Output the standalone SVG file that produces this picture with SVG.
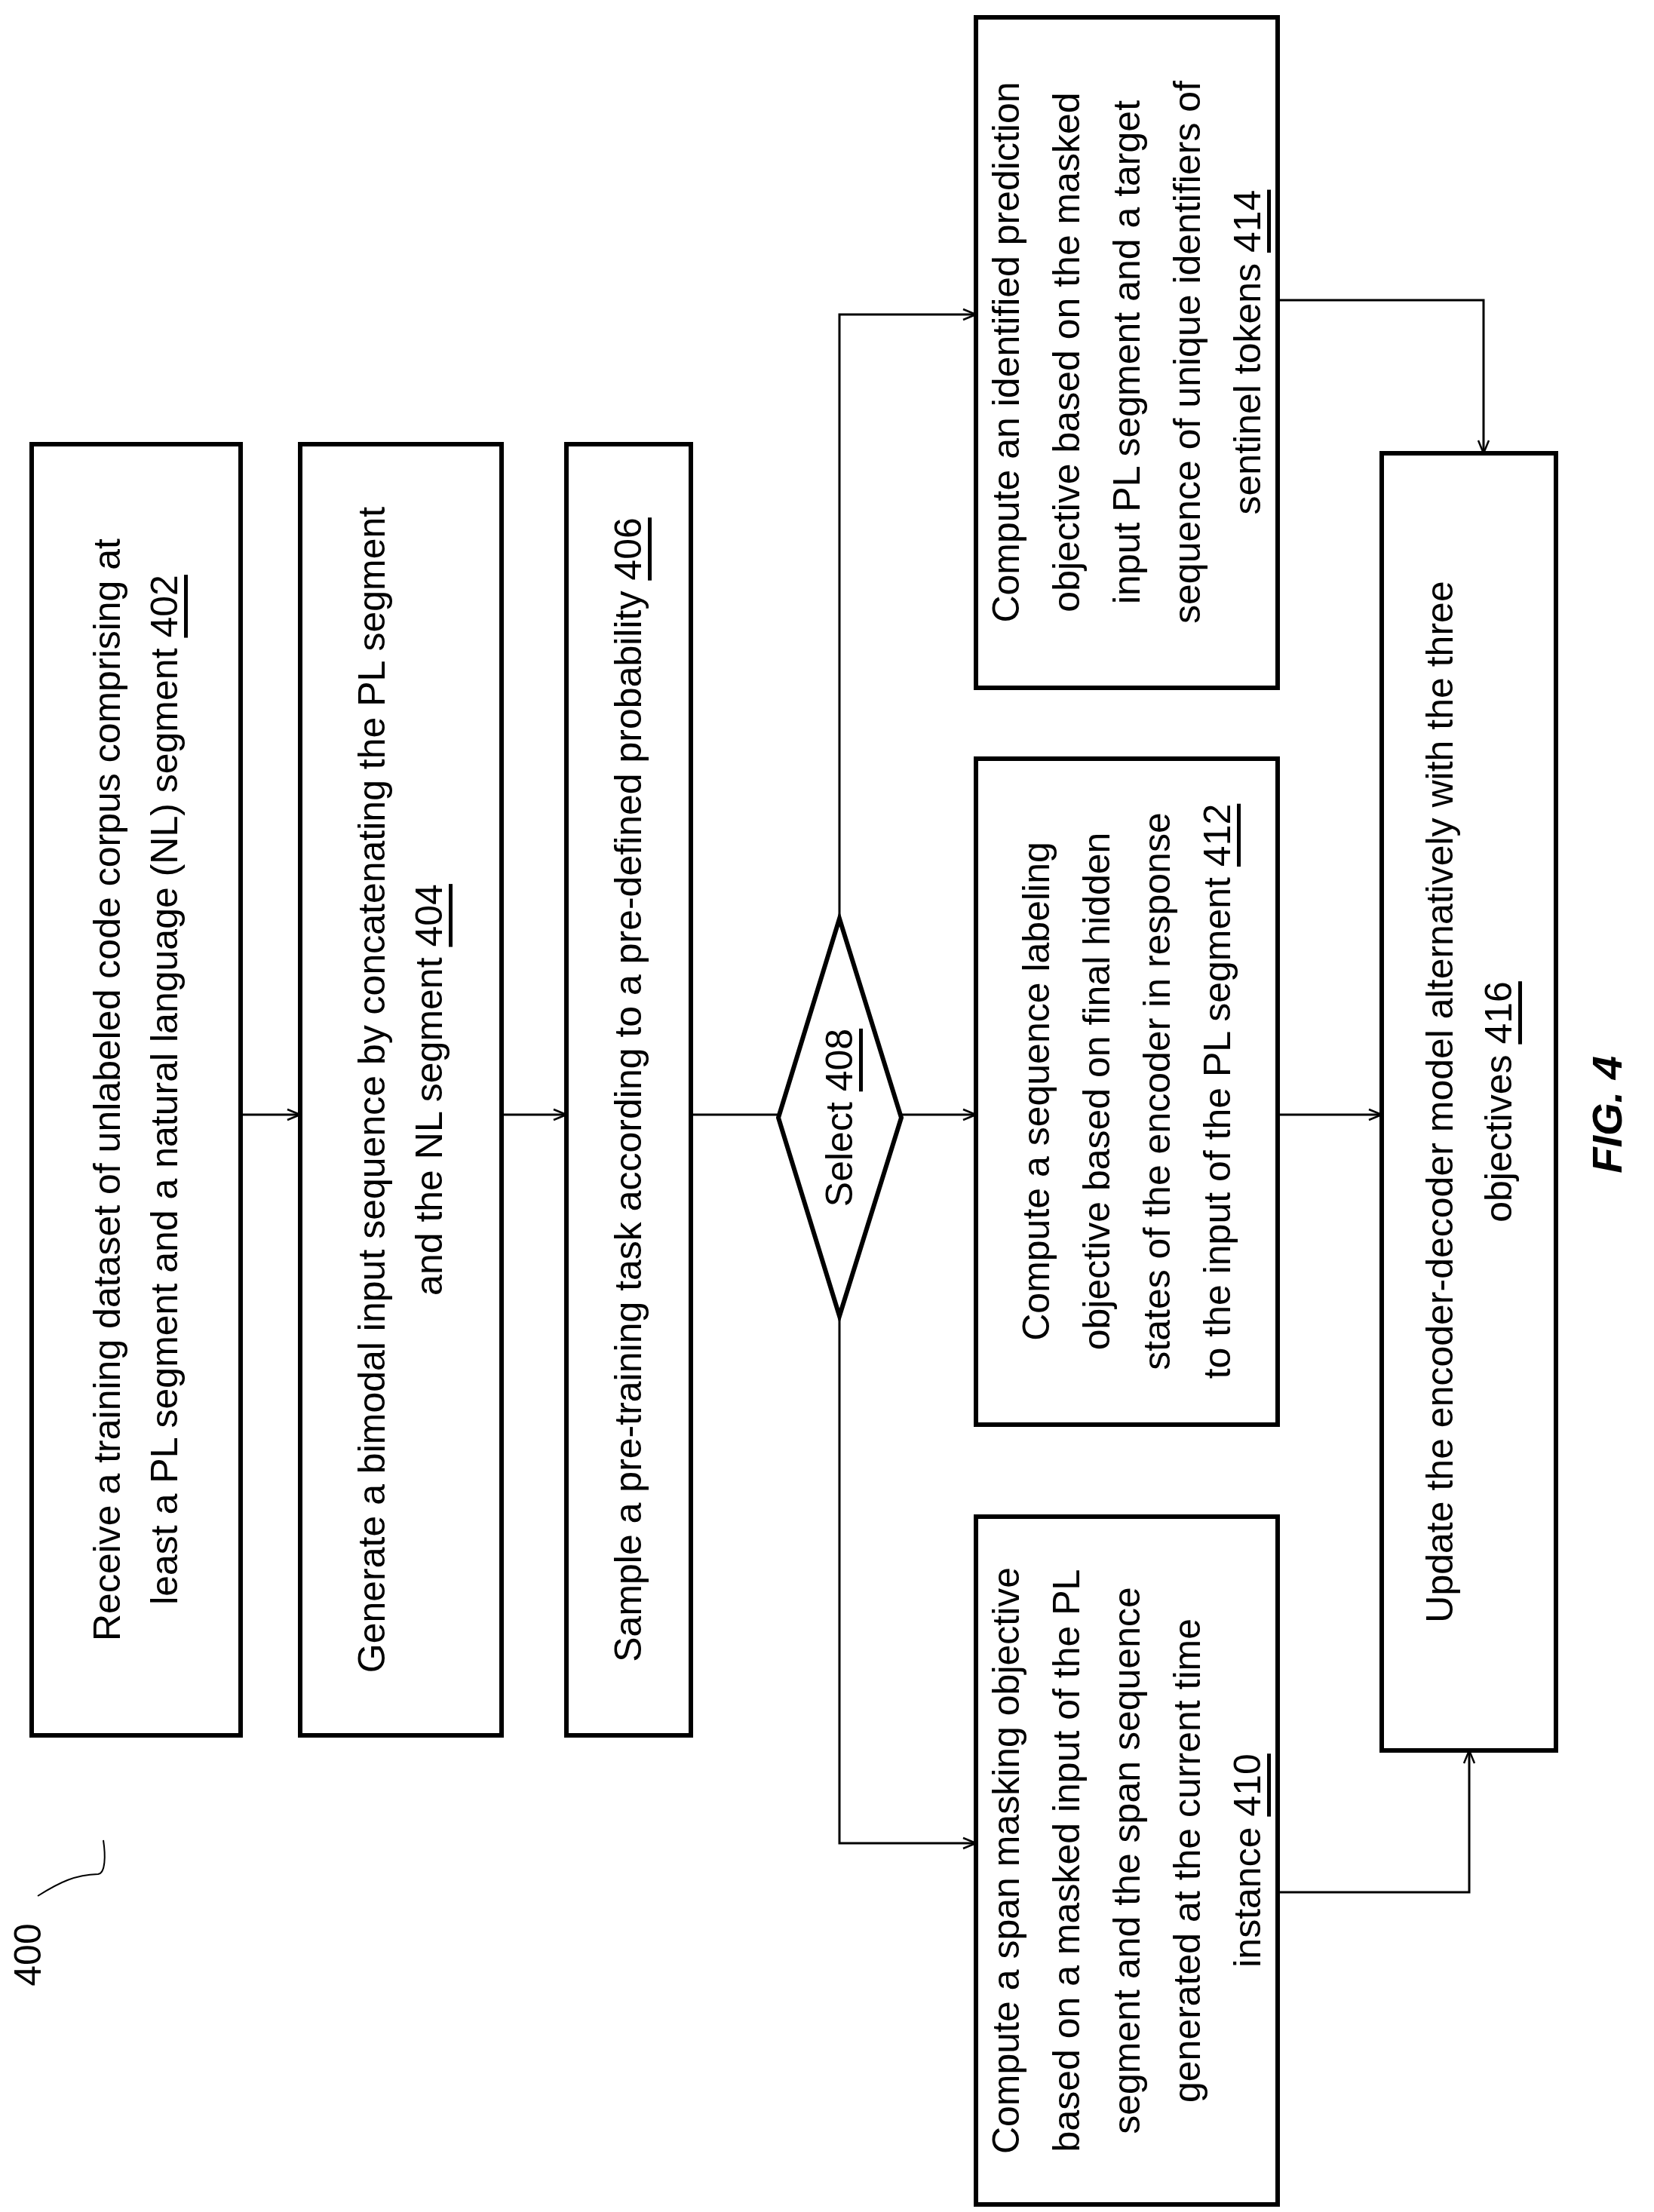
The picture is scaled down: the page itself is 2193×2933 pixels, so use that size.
<svg xmlns="http://www.w3.org/2000/svg" width="2193" height="2933" viewBox="0 0 2193 2933">
<style>
.b{fill:#fff;stroke:#000;stroke-width:6}
.t{font-family:"Liberation Sans",Arial,sans-serif;font-size:50px;text-anchor:middle;dominant-baseline:central;fill:#000}
.u{text-decoration:underline}
.c{fill:none;stroke:#000;stroke-width:3}
</style>
<defs><marker id="a" viewBox="0 0 20 20" refX="19" refY="10" markerWidth="20" markerHeight="20" markerUnits="userSpaceOnUse" orient="auto"><path d="M2,3 L19,10 L2,17" fill="none" stroke="#000" stroke-width="2.5"/></marker></defs>
<g id="connectors">
<path class="c" d="M319,1478 H398" marker-end="url(#a)"/>
<path class="c" d="M665,1478 H751" marker-end="url(#a)"/>
<path class="c" d="M916,1478 H1032"/>
<path class="c" d="M1195,1478 H1294" marker-end="url(#a)"/>
<path class="c" d="M1113,1218 V417 H1294" marker-end="url(#a)"/>
<path class="c" d="M1113,1745 V2444 H1294" marker-end="url(#a)"/>
<path class="c" d="M1694,1478 H1832" marker-end="url(#a)"/>
<path class="c" d="M1694,398 H1967 V601" marker-end="url(#a)"/>
<path class="c" d="M1694,2509 H1948 V2321" marker-end="url(#a)"/>
</g>
<g id="n402"><rect class="b" x="42" y="589" width="277" height="1712"/>
<text class="t" transform="translate(180,1445) rotate(-90)"><tspan x="0" y="-38">Receive a training dataset of unlabeled code corpus comprising at</tspan><tspan x="0" y="38">least a PL segment and a natural language (NL) segment <tspan class="u">402</tspan></tspan></text></g>
<g id="n404"><rect class="b" x="398" y="589" width="267" height="1712"/>
<text class="t" transform="translate(531,1445) rotate(-90)"><tspan x="0" y="-38">Generate a bimodal input sequence by concatenating the PL segment</tspan><tspan x="0" y="38">and the NL segment <tspan class="u">404</tspan></tspan></text></g>
<g id="n406"><rect class="b" x="751" y="589" width="165" height="1712"/>
<text class="t" transform="translate(833,1445) rotate(-90)">Sample a pre-training task according to a pre-defined probability  <tspan class="u">406</tspan></text></g>
<g id="n408"><polygon class="b" points="1032,1482 1113,1218 1195,1482 1113,1745"/>
<text class="t" transform="translate(1113,1482) rotate(-90)">Select <tspan class="u">408</tspan></text></g>
<g id="n410"><rect class="b" x="1294" y="2011" width="400" height="912"/>
<text class="t" transform="translate(1494,2467) rotate(-90)"><tspan x="0" y="-160">Compute a span masking objective</tspan><tspan x="0" y="-80">based on a masked input of the PL</tspan><tspan x="0" y="0">segment and the span sequence</tspan><tspan x="0" y="80">generated at the current time</tspan><tspan x="0" y="160">instance  <tspan class="u">410</tspan></tspan></text></g>
<g id="n412"><rect class="b" x="1294" y="1006" width="400" height="883"/>
<text class="t" transform="translate(1494,1447) rotate(-90)"><tspan x="0" y="-120">Compute a sequence labeling</tspan><tspan x="0" y="-40">objective based on final hidden</tspan><tspan x="0" y="40">states of the encoder in response</tspan><tspan x="0" y="120">to the input of the PL segment  <tspan class="u">412</tspan></tspan></text></g>
<g id="n414"><rect class="b" x="1294" y="23" width="400" height="889"/>
<text class="t" transform="translate(1494,467) rotate(-90)"><tspan x="0" y="-160">Compute an identified prediction</tspan><tspan x="0" y="-80">objective based on the masked</tspan><tspan x="0" y="0">input PL segment and a target</tspan><tspan x="0" y="80">sequence of unique identifiers of</tspan><tspan x="0" y="160">sentinel tokens  <tspan class="u">414</tspan></tspan></text></g>
<g id="n416"><rect class="b" x="1832" y="601" width="231" height="1720"/>
<text class="t" transform="translate(1948,1461) rotate(-90)"><tspan x="0" y="-39">Update the encoder-decoder model alternatively with the three</tspan><tspan x="0" y="39">objectives <tspan class="u">416</tspan></tspan></text></g>
<text class="t" transform="translate(2130,1478) rotate(-90)" style="font-size:56px;font-weight:bold;font-style:italic">FIG. 4</text>
<g id="label400"><text class="t" transform="translate(37,2592) rotate(-90)">400</text>
<path d="M50,2514 C80,2495 100,2486 130,2485 C140,2484 140,2460 137,2440" fill="none" stroke="#000" stroke-width="2"/></g>
</svg>
